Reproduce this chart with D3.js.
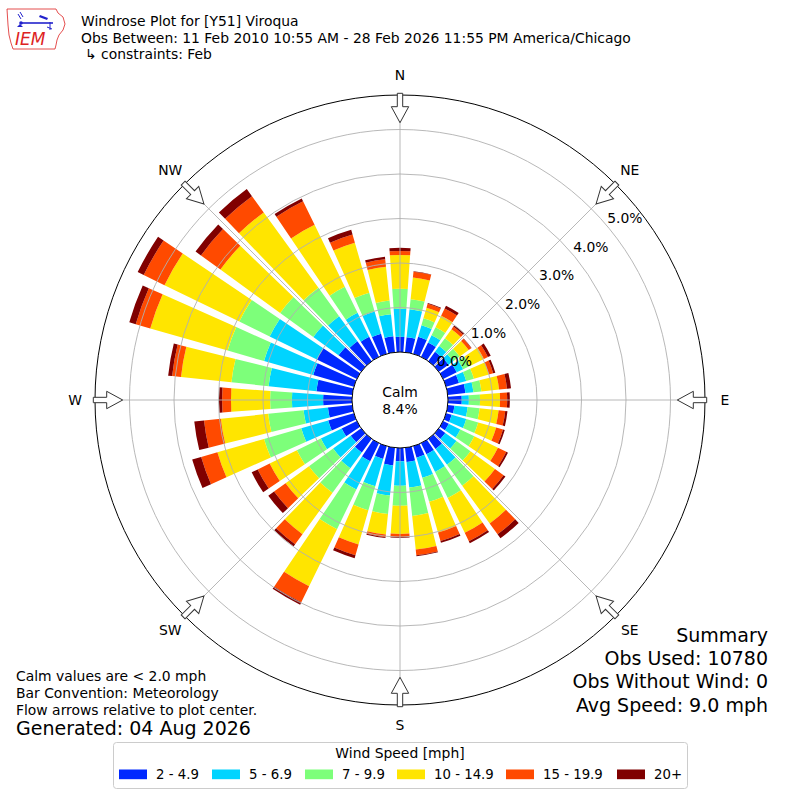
<!DOCTYPE html>
<html>
<head>
<meta charset="utf-8">
<script src="https://cdn.jsdelivr.net/npm/d3@7"></script>
<style>
  body { margin: 0; background: #fff; }
  text { font-family: "DejaVu Sans", sans-serif; fill: #000; }
</style>
</head>
<body>
<div id="chart"></div>
<script>
// Set up our chart
var svgWidth = 800;
var svgHeight = 800;
var cx = 400, cy = 400;

// wind directions (deg, bar centers) and speed bins
var directions = d3.range(0, 360, 10);
var speedBins = ["2 - 4.9", "5 - 6.9", "7 - 9.9", "10 - 14.9", "15 - 19.9", "20+"];
var binColors = ["#0028ff", "#00d4ff", "#7dff7a", "#ffe500", "#ff4a00", "#800000"];

// percent of obs per direction, one array per speed bin (0, 10, ... 350 deg)
var bin2to5 = [0.34,0.34,0.40,0.36,0.26,0.27,0.34,0.30,0.40,0.31,0.15,0.13,0.14,0.18,0.28,0.28,0.27,0.32,
               0.30,0.40,0.30,0.45,0.38,0.29,0.38,0.60,0.55,0.65,0.81,0.95,1.00,0.63,0.55,0.50,0.47,0.36];
var bin5to7 = [0.63,0.63,0.27,0.18,0.16,0.13,0.16,0.17,0.18,0.16,0.30,0.34,0.29,0.31,0.44,0.44,0.47,0.58,
               0.55,0.68,0.64,0.71,0.44,0.49,0.52,0.63,0.55,0.70,1.08,1.15,1.18,0.70,0.70,0.60,0.52,0.50];
var bin7to10 = [0.45,0.23,0.16,0.20,0.22,0.18,0.17,0.18,0.18,0.25,0.27,0.28,0.35,0.39,0.58,0.65,0.56,0.64,
                0.45,0.42,0.56,0.99,0.68,0.67,0.60,0.87,0.80,0.49,0.84,0.85,0.76,0.92,0.79,0.65,0.44,0.31];
var bin10to15 = [0.76,0.49,0.25,0.29,0.25,0.25,0.35,0.35,0.40,0.45,0.43,0.42,0.59,0.68,1.05,0.87,0.72,0.76,
                 0.63,0.46,0.80,1.43,1.15,0.65,0.68,1.09,1.07,0.88,1.14,1.81,1.87,1.66,2.09,1.55,1.17,0.76];
var bin15to20 = [0.09,0.13,0.09,0.18,0.07,0.07,0.10,0.10,0.18,0.16,0.15,0.16,0.21,0.24,0.30,0.21,0.20,0.13,
                 0.07,0.06,0.25,0.40,0.28,0.32,0.30,0.38,0.38,0.20,0.20,0.34,0.52,0.54,0.45,0.59,0.19,0.17];
var bin20plus = [0.07,0.01,0.02,0.07,0.04,0.01,0.07,0.05,0.09,0.06,0.05,0.04,0.04,0.05,0.11,0.05,0.04,0.02,
                 0.02,0.02,0.07,0.06,0.06,0.16,0.15,0.21,0.22,0.07,0.09,0.15,0.15,0.15,0.20,0.07,0.11,0.06];

var radialTicks = [0, 1, 2, 3, 4, 5];
var compass = [["N", 0], ["NE", 45], ["E", 90], ["SE", 135], ["S", 180], ["SW", 225], ["W", 270], ["NW", 315]];
var calmPct = "8.4%";

var titleLines = ["Windrose Plot for [Y51] Viroqua",
                  "Obs Between: 11 Feb 2010 10:55 AM - 28 Feb 2026 11:55 PM America/Chicago",
                  "\u21b3 constraints: Feb"];
var noteLines = ["Calm values are < 2.0 mph", "Bar Convention: Meteorology", "Flow arrows relative to plot center."];
var generated = "Generated: 04 Aug 2026";
var summaryLines = ["Summary", "Obs Used: 10780", "Obs Without Wind: 0", "Avg Speed: 9.0 mph"];

var svg = d3.select("#chart")
    .append("svg")
    .attr("width", svgWidth)
    .attr("height", svgHeight);

// build the stacked table
var series = [bin2to5, bin5to7, bin7to10, bin10to15, bin15to20, bin20plus];
var table = directions.map(function (dir, i) {
    var row = { dir: dir };
    speedBins.forEach(function (b, j) { row[b] = series[j][i]; });
    return row;
});
var stacked = d3.stack().keys(speedBins)(table);

// radial scale: 0% sits on the calm circle
var rScale = d3.scaleLinear().domain([0, 5]).range([48, 270.5]);
var outerR = 305;
var rad = Math.PI / 180;
var opening = 8; // degrees covered by each 10 deg bar

var plot = svg.append("g")
    .attr("transform", `translate(${cx}, ${cy})`);

var arc = d3.arc()
    .innerRadius(d => rScale(d[0]))
    .outerRadius(d => rScale(d[1]))
    .startAngle(d => (d.data.dir - opening / 2) * rad)
    .endAngle(d => (d.data.dir + opening / 2) * rad);

// bars
plot.selectAll("g.bin")
    .data(stacked)
    .enter()
    .append("g")
    .attr("class", "bin")
    .attr("fill", (d, i) => binColors[i])
    .selectAll("path")
    .data(d => d)
    .enter()
    .append("path")
    .attr("d", arc);

// grid rings and spokes (drawn over the bars)
plot.selectAll("circle.ring")
    .data(radialTicks.slice(1))
    .enter()
    .append("circle")
    .attr("class", "ring")
    .attr("r", d => rScale(d))
    .attr("fill", "none")
    .attr("stroke", "#b0b0b0")
    .attr("stroke-width", 0.9);

plot.selectAll("line.spoke")
    .data(compass)
    .enter()
    .append("line")
    .attr("x1", 0).attr("y1", 0)
    .attr("x2", d => outerR * Math.sin(d[1] * rad))
    .attr("y2", d => -outerR * Math.cos(d[1] * rad))
    .attr("stroke", "#b0b0b0")
    .attr("stroke-width", 0.9);

// outer frame
plot.append("circle")
    .attr("r", outerR)
    .attr("fill", "none")
    .attr("stroke", "#000")
    .attr("stroke-width", 1);

// calm circle
plot.append("circle")
    .attr("r", rScale(0))
    .attr("fill", "#fff")
    .attr("stroke", "#000")
    .attr("stroke-width", 1);

plot.append("text")
    .attr("y", -3)
    .attr("text-anchor", "middle")
    .attr("font-size", "13.9px")
    .text("Calm");
plot.append("text")
    .attr("y", 14)
    .attr("text-anchor", "middle")
    .attr("font-size", "13.9px")
    .text(calmPct);

// radial labels along 50 deg
var labelAng = 50 * rad;
plot.selectAll("text.rlabel")
    .data(radialTicks)
    .enter()
    .append("text")
    .attr("x", d => rScale(d) * Math.sin(labelAng))
    .attr("y", d => -rScale(d) * Math.cos(labelAng) - 3)
    .attr("font-size", "13.9px")
    .text(d => d3.format(".1f")(d) + "%");

// flow arrows pointing toward the center
var arrowPts = [[-2.7, -306.7], [2.7, -306.7], [2.7, -293.3], [8.7, -293.3],
                [0, -277.3], [-8.7, -293.3], [-2.7, -293.3]];
plot.selectAll("polygon.arrow")
    .data(compass)
    .enter()
    .append("polygon")
    .attr("points", arrowPts.map(p => p.join(",")).join(" "))
    .attr("transform", d => `rotate(${d[1]})`)
    .attr("fill", "#fff")
    .attr("stroke", "#333")
    .attr("stroke-width", 1);

// compass labels
plot.selectAll("text.compass")
    .data(compass)
    .enter()
    .append("text")
    .attr("x", d => 325 * Math.sin(d[1] * rad))
    .attr("y", d => -325 * Math.cos(d[1] * rad) + 5)
    .attr("text-anchor", "middle")
    .attr("font-size", "13.9px")
    .text(d => d[0]);

// header text
svg.selectAll("text.title")
    .data(titleLines)
    .enter()
    .append("text")
    .attr("x", (d, i) => i == 2 ? 85 : 81)
    .attr("y", (d, i) => 26 + i * 16.5)
    .attr("font-size", "13.9px")
    .text(d => d);

// IEM logo
var logo = svg.append("g");
logo.append("path")
    .attr("d", "M7,9 L56,9 L58,13 L63,17 L65,24 L63,30 L59,35 L57,40 L56,45 L55,49 L13,49 L11,43 L9,35 L8,25 Z")
    .attr("fill", "none")
    .attr("stroke", "#d22")
    .attr("stroke-width", 0.8);
logo.append("line").attr("x1", 22).attr("y1", 23).attr("x2", 53).attr("y2", 23)
    .attr("stroke", "#22c").attr("stroke-width", 1.6);
logo.append("path").attr("d", "M40,15 L48,18 L47,20 L39,17 Z").attr("fill", "#22c");
logo.append("path").attr("d", "M50,22 L50,30 M47,27 L52,29").attr("stroke", "#22c").attr("stroke-width", 1);
logo.append("circle").attr("cx", 21).attr("cy", 23).attr("r", 1.8).attr("fill", "#22c");
logo.append("path").attr("d", "M18,14 L21,19 M20,12 L23,17").attr("stroke", "#22c").attr("stroke-width", 1);
logo.append("path").attr("d", "M17,27 L20,24 L23,27 Z").attr("fill", "#22c");
logo.append("text")
    .attr("x", 15).attr("y", 45)
    .attr("font-family", "Liberation Serif, serif")
    .attr("font-style", "italic")
    .attr("font-size", "17px")
    .style("fill", "#d22")
    .text("IEM");

// notes bottom left
svg.selectAll("text.note")
    .data(noteLines)
    .enter()
    .append("text")
    .attr("x", 16)
    .attr("y", (d, i) => 681 + i * 17)
    .attr("font-size", "13.9px")
    .text(d => d);
svg.append("text")
    .attr("x", 16)
    .attr("y", 735)
    .attr("font-size", "19px")
    .text(generated);

// summary bottom right
svg.selectAll("text.summary")
    .data(summaryLines)
    .enter()
    .append("text")
    .attr("x", 768)
    .attr("y", (d, i) => 642 + i * 23.2)
    .attr("text-anchor", "end")
    .attr("font-size", "19px")
    .text(d => d);

// legend
var legend = svg.append("g");
legend.append("rect")
    .attr("x", 113.5).attr("y", 742.5)
    .attr("width", 574).attr("height", 46)
    .attr("rx", 3)
    .attr("fill", "#fff")
    .attr("stroke", "#cccccc");
legend.append("text")
    .attr("x", 400).attr("y", 757.5)
    .attr("text-anchor", "middle")
    .attr("font-size", "13.9px")
    .text("Wind Speed [mph]");

// legend entry positions
var legendX = [119, 212, 305, 397, 506, 617];
speedBins.forEach(function (b, i) {
    legend.append("rect")
        .attr("x", legendX[i]).attr("y", 769.5)
        .attr("width", 28).attr("height", 9.7)
        .attr("fill", binColors[i]);
    legend.append("text")
        .attr("x", legendX[i] + 37).attr("y", 779)
        .attr("font-size", "13.3px")
        .text(b);
});
</script>
</body>
</html>
